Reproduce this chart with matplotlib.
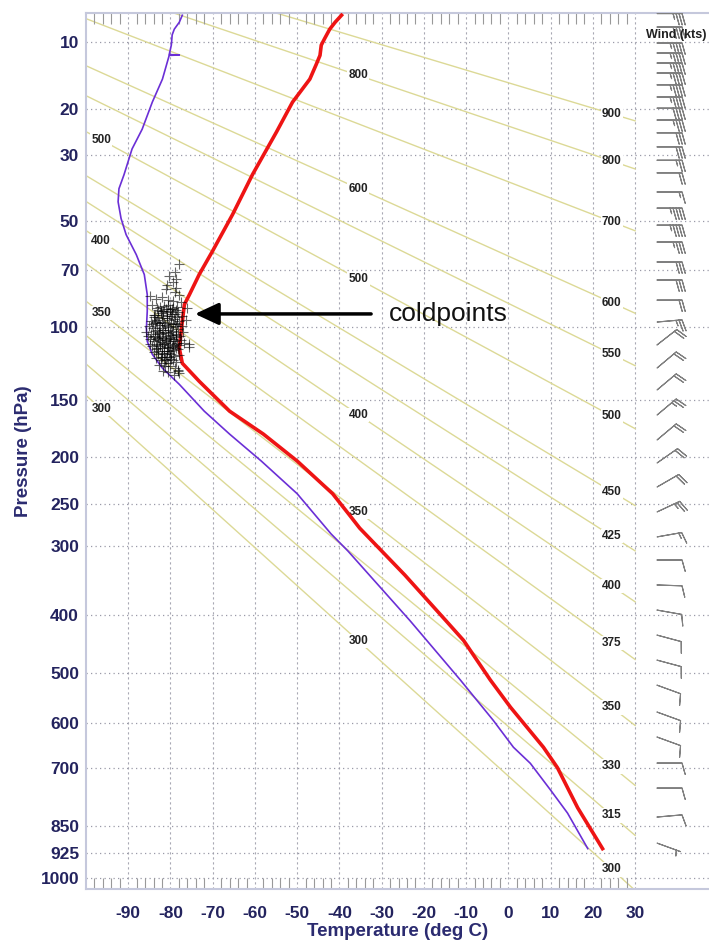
import numpy as np
import matplotlib
matplotlib.use('Agg')
import matplotlib.pyplot as plt
from matplotlib.ticker import NullLocator

plt.rcParams['font.family'] = ['Liberation Sans', 'DejaVu Sans']

KAPPA = 0.286

# temperature profile (hPa, deg C)
temp_p = [7.25, 7.9, 8.6, 9.6, 10.35, 11.6, 12.8, 14.9, 18.7, 24.6, 35.2, 47.7,
          61.9, 72.1, 81.9, 87.1, 100.6, 113, 122.9, 135.7, 159, 178.7, 204, 238,
          263, 278, 340, 409, 442, 513, 567, 653, 700, 800, 912]
temp_t = [-39.5, -41.0, -42.3, -43.5, -44.3, -44.6, -45.5, -47.0, -51.1, -54.9, -60.6, -65.3,
          -70.1, -73.2, -75.5, -76.7, -77.4, -77.9, -77.2, -73.2, -66.0, -58.0, -50.0, -41.6,
          -37.5, -35.2, -24.5, -14.8, -10.6, -4.3, 0.5, 8.3, 11.6, 16.4, 22.3]

# dew/frost point profile
dew_p = [7.25, 7.9, 8.6, 9.2, 10.35, 11.5, 11.55, 11.6, 14.9, 18.7, 24.0, 28.5,
         35.2, 39.3, 43.4, 49.1, 55.1, 63.2, 72.1, 81.9, 90.9, 100.6, 108.5, 116.9,
         126.3, 138, 159, 178.7, 204, 238, 285, 307, 409, 513, 594, 653, 690, 755, 814, 912]
dew_t = [-77.2, -77.9, -79.1, -79.6, -79.8, -80.3, -77.9, -80.3, -81.9, -84.3, -86.7, -89.1,
         -91.0, -92.2, -92.4, -91.7, -90.5, -88.1, -86.2, -85.5, -85.5, -85.7, -85.5, -84.3,
         -81.9, -77.9, -72.0, -66.0, -58.5, -50.0, -42.0, -38.0, -23.3, -11.4, -3.6, 1.2, 5.2, 10.0, 14.0, 18.8]

# cold point temperatures from the ensemble of soundings
cold_t = [-77.9, -80.3, -79.5, -78.8, -81.0, -79.0, -78.0, -83.5, -84.3, -82.0, -80.5, -79.3,
          -77.6, -76.2, -81.5, -80.0, -78.5, -83.0, -82.2, -80.8, -79.6, -78.2, -77.3, -84.0,
          -83.1, -81.7, -80.4, -79.1, -77.9, -82.6, -81.2, -79.8, -78.6, -85.0, -84.2, -83.3,
          -82.0, -80.7, -79.4, -78.1, -77.0, -85.8, -84.5, -83.6, -82.4, -81.0, -79.9, -78.7,
          -77.5, -84.9, -83.8, -82.7, -81.4, -80.2, -79.0, -77.9, -84.4, -83.2, -82.0, -80.8,
          -79.5, -78.3, -75.5, -84.0, -82.9, -81.6, -80.4, -79.2, -78.0, -83.4, -82.2, -81.0,
          -79.8, -78.7, -82.6, -81.3, -80.1, -78.9, -81.8, -80.5, -79.2, -78.2, -81.9, -80.9,
          -82.8, -81.7, -80.6, -81.5, -82.4, -83.0, -80.0, -81.4, -79.3, -82.1, -80.9, -83.6,
          -79.7, -78.8, -80.3, -81.9, -83.5, -80.1, -78.5, -79.0, -80.6, -81.8, -83.7, -82.5,
          -78.4, -79.6, -84.6, -84.8, -77.2, -77.7, -76.8, -76.4, -85.3, -79.0, -80.8, -78.7,
          -84.8, -75.6, -78.0, -78.3,
          -83.2, -82.3, -81.1, -80.2, -79.4, -78.6, -83.9, -82.9, -81.9, -80.9, -79.9, -78.9,
          -84.3, -83.4, -82.5, -81.5, -80.5, -79.5, -78.4, -83.7, -82.7, -81.7, -80.7, -79.7,
          -78.8, -84.1, -83.1, -82.1, -81.1, -80.1, -79.1, -83.5, -82.5, -81.5, -80.5, -79.5,
          -78.6, -82.9, -81.9, -80.9, -79.9, -82.2, -81.2, -80.2, -79.3, -81.6, -80.6]
cold_p = [67.5, 73, 75.5, 74, 79, 80.5, 82, 84, 87.5, 83, 84.5, 85.5,
          86, 89, 88, 89.5, 88.5, 90, 92, 91.5, 92.5, 91, 93.5, 94,
          95.5, 94.5, 96, 95, 96.5, 97.5, 98.5, 98, 99.5, 99, 100.5, 101.5,
          100.5, 101.5, 102, 101, 103, 102.5, 104, 105, 104, 105.5, 104.5, 106,
          107.5, 107, 108.5, 108, 109.5, 108.5, 110, 111, 111.5, 112.5, 113, 112,
          114, 113.5, 112, 115.5, 116.5, 117, 116, 118, 117.5, 119.5, 120.5, 121,
          120, 122, 124, 125, 124.5, 126, 128.5, 129, 131, 128, 96.8, 93.7,
          102.8, 106.6, 110.6, 114.6, 110.2, 106.3, 100.0, 102.9, 107.3, 118.4, 118.8, 97.2,
          111.9, 103.8, 106.8, 109.0, 113.7, 114.8, 109.3, 97.4, 87.2, 90.6, 92.7, 88.6,
          94.2, 89.6, 96.4, 110.0, 99.3, 105.1, 109.4, 95.7, 105.2, 71.0, 77.0, 78.5,
          82.5, 110.5, 130, 127.5,
          89.0, 90.5, 89.8, 90.8, 89.2, 90.0, 93.0, 93.8, 92.8, 94.6, 93.4, 92.2,
          98.0, 97.0, 98.8, 97.6, 99.0, 98.2, 97.8, 102.0, 103.2, 101.8, 103.6, 102.6,
          104.6, 106.0, 107.0, 105.8, 107.6, 106.4, 108.2, 110.8, 111.6, 110.4, 112.6, 111.2,
          112.8, 115.0, 115.8, 114.4, 116.6, 119.0, 119.8, 118.6, 120.6, 123.0, 122.4]

# wind barbs: level (hPa), speed (kts), direction (deg)
wind_p = [7.1, 8.38, 10.1, 11.3, 12.6, 14.0, 15.8, 17.8, 19.8, 22.1, 24.8, 28.0,
          31.3, 34.7, 40.3, 45.5, 51.5, 58.0, 66.4, 74.7, 84.8, 96.9, 110.8, 126.2,
          142.2, 162.2, 184.0, 205.9, 230.7, 258.6, 288.9, 319.1, 354.2, 392.2, 432.9, 476.5,
          523.2, 576.9, 630.2, 689.4, 749.9, 824.6, 896.2]
wind_spd = [35, 40, 45, 45, 45, 45, 45, 45, 40, 35, 30, 30,
            25, 20, 15, 45, 45, 35, 30, 30, 20, 25, 20, 20,
            20, 25, 20, 20, 20, 25, 15, 10, 10, 10, 10, 10,
            10, 10, 10, 10, 10, 10, 5]
wind_dir = [90, 90, 90, 90, 90, 90, 90, 90, 90, 90, 90, 90,
            90, 90, 90, 90, 90, 90, 90, 90, 90, 85, 52, 50,
            50, 50, 50, 55, 60, 65, 80, 90, 92, 100, 105, 105,
            110, 110, 110, 90, 90, 85, 110]

theta_levels = [300, 315, 330, 350, 375, 400, 425, 450, 500, 550, 600, 700, 800, 900]
theta_mid = [300, 350, 400, 500, 600, 800]
theta_left = [300, 350, 400, 500]

p_ticks = [10, 20, 30, 50, 70, 100, 150, 200, 250, 300, 400, 500, 600, 700, 850, 925, 1000]
t_ticks = list(range(-90, 31, 10))

navy = '#23235e'


def theta_p(theta, t):
    return 1000.0 * ((np.asarray(t) + 273.15) / theta) ** (1.0 / KAPPA)


fig = plt.figure(figsize=(7.09, 9.43), dpi=100)
ax = fig.add_axes([86 / 709, 54 / 943, 623 / 709, 876 / 943])
ax.set_yscale('function', functions=(lambda p: np.power(np.clip(p, 1e-6, None), KAPPA),
                                     lambda y: np.power(np.clip(y, 1e-6, None), 1.0 / KAPPA)))
ax.set_xlim(-100, 47.5)
ax.set_ylim(1033, 7.05)

# grid
for t in t_ticks:
    ax.axvline(t, color='#a8a8b4', lw=0.8, ls=(0, (2, 2.5)), zorder=0.5)
for p in p_ticks:
    ax.axhline(p, color='#9a9aa8', lw=0.9, ls=(0, (1, 2.6)), zorder=0.5)

# dry adiabats
tt = np.array([-100.0, 30.0])
for th in theta_levels:
    ax.plot(tt, theta_p(th, tt), color='#dcd996', lw=1.0, zorder=1)
    labs = [24.5]
    if th in theta_mid:
        labs.append(-35.5)
    if th in theta_left:
        labs.append(-96.4)
    for tl in labs:
        ax.text(tl, theta_p(th, tl), str(th), ha='center', va='center', fontsize=8.5,
                fontweight='bold', color='#222222', zorder=2,
                bbox=dict(boxstyle='square,pad=0.1', fc='white', ec='none'))

# profiles
ax.plot(dew_t, dew_p, color='#6b2fd6', lw=1.2, zorder=3)
ax.plot(temp_t, temp_p, color='#ee1414', lw=2.6, zorder=4)
ax.plot(cold_t, cold_p, ls='none', marker='+', ms=7, mew=0.8, color='black', alpha=0.6, zorder=5)

# winds
wd = np.deg2rad(wind_dir)
u = -np.array(wind_spd) * np.sin(wd)
v = -np.array(wind_spd) * np.cos(wd)
ax.barbs(np.full(len(wind_p), 35.2), wind_p, u, v, length=6, color='#808080',
         linewidth=0.8, zorder=3, sizes=dict(height=0.45, spacing=0.12))
ax.text(39.7, 9.2, 'Wind (kts)', ha='center', va='center', fontsize=9, fontweight='bold',
        color='#222222', zorder=6)

# annotation
ax.annotate('', xy=(-74.2, 92.3), xytext=(-32.5, 92.3),
            arrowprops=dict(arrowstyle='-|>,head_length=0.6,head_width=0.28', lw=2.5,
                            color='black', mutation_scale=24, shrinkA=0, shrinkB=0), zorder=7)
ax.text(-28.3, 92.3, 'coldpoints', ha='left', va='center', fontsize=19, color='#111111', zorder=7)

# axes styling
ax.set_xticks(t_ticks)
ax.set_xticklabels([str(t) for t in t_ticks])
ax.set_xticks([t for t in range(-98, 30, 2) if t % 10], minor=True)
ax.tick_params(axis='x', which='major', length=0, pad=12, labelsize=12.5, labelcolor=navy)
ax.tick_params(axis='x', which='minor', direction='in', length=8, top=True, bottom=True,
               color='#999999', width=0.8)
ax.set_yticks(p_ticks)
ax.set_yticklabels([str(p) for p in p_ticks])
ax.yaxis.set_minor_locator(NullLocator())
ax.tick_params(axis='y', length=0, pad=5, labelsize=12.5, labelcolor=navy)
for lab in ax.get_xticklabels() + ax.get_yticklabels():
    lab.set_fontweight('bold')

ax.set_xlabel('Temperature (deg C)', fontsize=13.5, fontweight='bold', color='#2b2b70', labelpad=2)
ax.set_ylabel('Pressure (hPa)', fontsize=13.5, fontweight='bold', color='#2b2b70', labelpad=6)

for side in ['left', 'top', 'bottom']:
    ax.spines[side].set_color('#c5c8dc')
    ax.spines[side].set_linewidth(1.5)
ax.spines['right'].set_visible(False)

fig.savefig('out.png', dpi=100)
